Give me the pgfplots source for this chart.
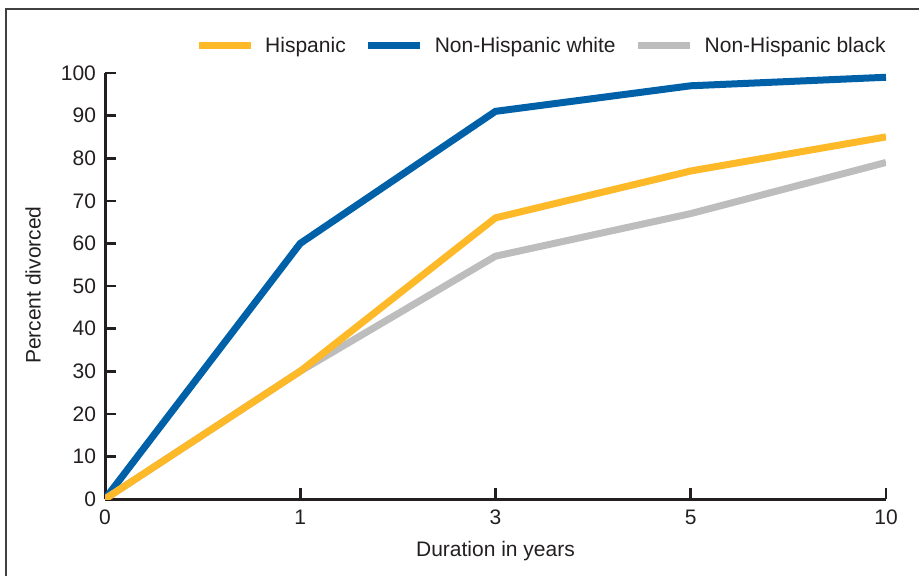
\documentclass[border=0pt]{standalone}
\usepackage{pgfplots}
\pgfplotsset{compat=1.18}
\usepackage{fontspec}
\setmainfont{Liberation Sans}
\definecolor{hisp}{HTML}{FDB927}
\definecolor{nhw}{HTML}{0061A9}
\definecolor{nhb}{HTML}{BDBDBD}
\definecolor{txt}{HTML}{231F20}
\begin{document}
\begin{tikzpicture}[font=\fontsize{10.5}{12.6}\selectfont]
\useasboundingbox (0,0) rectangle (459.5pt,287.5pt);
\begin{axis}[
  at={(52.5pt,38pt)}, anchor=south west,
  scale only axis, width=390.5pt, height=213pt,
  xmin=0, xmax=4, ymin=0, ymax=100,
  axis lines=left, axis line style={line width=1.5pt, color=txt, -},
  xtick={0,1,2,3,4}, xticklabels={0,1,3,5,10},
  ytick={0,10,...,100},
  tick align=inside, major tick length=5.5pt,
  tick style={line width=1.3pt, color=txt},
  /pgf/number format/assume math mode=true,
  every tick label/.append style={color=txt, font=\fontsize{10.5}{12.6}\selectfont},
  xticklabel style={yshift=-2pt},
  yticklabel style={xshift=-1pt},
  xlabel={Duration in years}, ylabel={Percent divorced},
  every axis x label/.style={at={(axis description cs:0.5,-0.122)}, anchor=center, color=txt},
  every axis y label/.style={at={(axis description cs:-0.0922,0.502)}, anchor=center, rotate=90, color=txt},
  legend columns=3,
  legend style={draw=none, fill=none, inner sep=0pt, anchor=east, at={(axis description cs:1.0,1.0634)},
    /tikz/every even column/.append style={column sep=9.5pt}, text=txt,
    nodes={inner sep=0pt, anchor=west}},
  legend image code/.code={\draw[#1] (0pt,0pt) -- (26pt,0pt); \path (31.5pt,0pt);},
]
\addlegendimage{hisp, line width=3.5pt}
\addlegendentry{Hispanic}
\addlegendimage{nhw, line width=3.5pt}
\addlegendentry{Non-Hispanic white}
\addlegendimage{nhb, line width=3.5pt}
\addlegendentry{Non-Hispanic black}
\addplot[nhw, line width=3.5pt, forget plot] coordinates {(0,0) (1,60) (2,91) (3,97) (4,99)};
\addplot[nhb, line width=3.5pt, forget plot] coordinates {(0,0) (1,30) (2,57) (3,67) (4,79)};
\addplot[hisp, line width=3.5pt, forget plot] coordinates {(0,0) (1,30) (2,66) (3,77) (4,85)};
\end{axis}
\draw[line width=0.9pt, color=black!75] (3pt,-5pt) -- (3pt,283pt) -- (465pt,283pt);
\end{tikzpicture}
\end{document}
